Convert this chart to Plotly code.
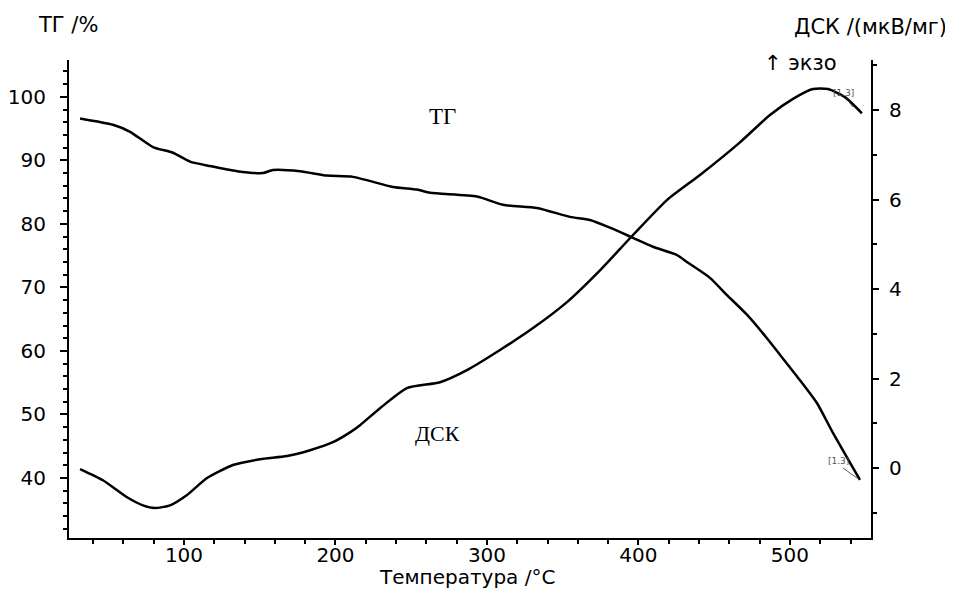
import plotly.graph_objects as go

# TG curve (left axis, %)
tg_temp = [31.4, 53.1, 64.4, 79.5, 92.7, 104.0, 117.2, 135.0, 152.1, 158.7, 176.6, 194.4,
           211.6, 238.0, 253.8, 262.4, 293.4, 310.6, 333.0, 354.8, 368.0, 381.2, 396.4,
           409.6, 425.4, 432.0, 447.2, 458.4, 471.6, 484.8, 493.4, 506.6, 517.8, 528.4, 546.2]
tg_val = [96.6, 95.6, 94.5, 92.1, 91.2, 89.8, 89.1, 88.3, 88.0, 88.5, 88.3, 87.6,
          87.4, 85.8, 85.4, 84.9, 84.3, 83.0, 82.5, 81.1, 80.6, 79.4, 77.8,
          76.4, 75.1, 74.0, 71.5, 68.8, 65.7, 62.0, 59.4, 55.4, 51.8, 47.1, 39.7]

# DSC curve (right axis, µV/mg)
dsc_temp = [31.4, 46.5, 62.4, 72.9, 80.9, 90.8, 102.0, 115.2, 132.3, 150.2, 168.0, 183.2,
            198.3, 209.6, 216.2, 229.4, 247.2, 269.0, 286.8, 308.6, 330.4, 352.8, 374.6,
            396.4, 418.8, 440.6, 467.0, 486.8, 502.0, 515.2, 525.1, 536.3, 547.5]
dsc_val = [-0.02, -0.27, -0.65, -0.83, -0.89, -0.83, -0.60, -0.22, 0.07, 0.20, 0.27, 0.40,
           0.58, 0.80, 0.96, 1.34, 1.79, 1.92, 2.19, 2.64, 3.13, 3.71, 4.42,
           5.21, 5.99, 6.55, 7.28, 7.89, 8.25, 8.47, 8.47, 8.29, 7.93]

FONT = "DejaVu Sans, Arial, sans-serif"
SERIF = "Liberation Serif, Times New Roman, serif"

# page position of the plot area (body margin of 8 px included)
PX0, PX1, PY0, PY1 = 69, 871, 60, 538


def px(x):
    return (x - PX0) / (PX1 - PX0)


def py(y):
    return (PY1 - y) / (PY1 - PY0)


fig = go.Figure()
fig.add_trace(go.Scatter(x=tg_temp, y=tg_val, mode="lines",
                         line=dict(color="black", width=2.5, shape="spline", smoothing=0.6),
                         yaxis="y", showlegend=False))
fig.add_trace(go.Scatter(x=dsc_temp, y=dsc_val, mode="lines",
                         line=dict(color="black", width=2.5, shape="spline", smoothing=0.6),
                         yaxis="y2", showlegend=False))

axis_common = dict(showgrid=False, zeroline=False, showline=True, linecolor="black", linewidth=2,
                   ticks="outside", tickcolor="black", tickwidth=2, automargin=False,
                   tickfont=dict(family=FONT, size=20, color="black"))

fig.update_layout(
    width=945, height=581,
    margin=dict(l=61, r=82, t=52, b=51),
    paper_bgcolor="white", plot_bgcolor="white",
    xaxis=dict(range=[24.1, 553.5], tick0=0, dtick=100, ticklen=5,
               minor=dict(dtick=20, ticklen=4, ticks="outside", tickcolor="black", tickwidth=2),
               ticklabelstandoff=-7, **axis_common),
    yaxis=dict(range=[30.55, 105.8], tick0=0, dtick=10, ticklen=7,
               minor=dict(dtick=2, ticklen=4, ticks="outside", tickcolor="black", tickwidth=2),
               ticklabelstandoff=10, **axis_common),
    yaxis2=dict(range=[-1.56, 9.12], tick0=0, dtick=2, ticklen=6, overlaying="y", side="right",
                minor=dict(dtick=1, ticklen=4, ticks="outside", tickcolor="black", tickwidth=2),
                ticklabelstandoff=6, **axis_common),
)

ann = [
    ("ТГ /%", 37, 25, "left", dict(family=FONT, size=21, color="black")),
    ("ДСК /(мкВ/мг)", 948, 27, "right", dict(family=FONT, size=21, color="black")),
    ("↑ экзо", 763, 63, "left", dict(family=FONT, size=21, color="black")),
    ("Температура /°C", 467, 577, "center", dict(family=FONT, size=20, color="black")),
    ("ТГ", 442, 117, "center", dict(family=SERIF, size=23, color="black")),
    ("ДСК", 437, 433, "center", dict(family=SERIF, size=22, color="black")),
    ("[1.3]", 843, 93, "center", dict(family=FONT, size=9, color="#555")),
    ("[1.3]", 838, 461, "center", dict(family=FONT, size=9, color="#555")),
]
for text, x, y, xa, font in ann:
    fig.add_annotation(xref="paper", yref="paper", x=px(x), y=py(y), text=text,
                       showarrow=False, xanchor=xa, yanchor="middle", font=font, borderpad=0)

# thin leader lines of the [1.3] marks
for (x0, y0, x1, y1) in [(846, 98, 853, 107), (843, 468, 857, 478)]:
    fig.add_shape(type="line", xref="paper", yref="paper",
                  x0=px(x0), y0=py(y0), x1=px(x1), y1=py(y1),
                  line=dict(color="#333", width=0.8))

fig.write_html("out.html")
